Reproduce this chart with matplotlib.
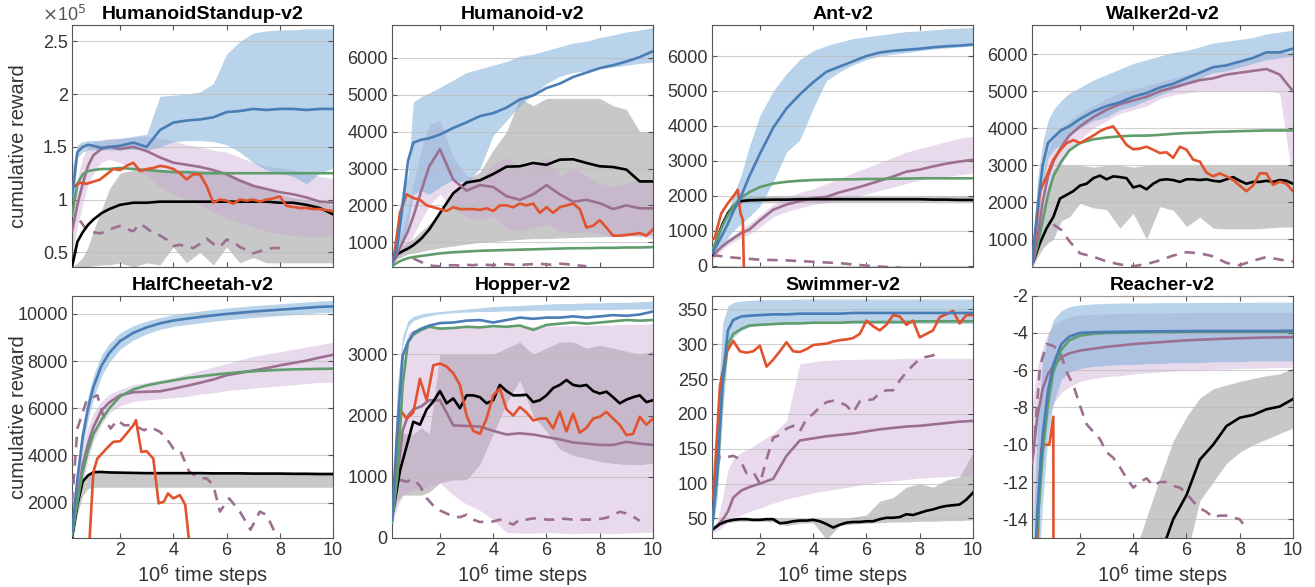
"""Learning curves on 8 MuJoCo tasks: mean lines with shaded spread."""
import numpy as np
import matplotlib
matplotlib.use("Agg")
import matplotlib.pyplot as plt

nan = np.nan

# time steps (x 10^6)
X = [0.2, 0.4, 0.6, 0.8, 1.0, 1.3, 1.6, 2.0, 2.5, 3.0, 3.5, 4.0, 4.5, 5.0,
     5.5, 6.0, 6.5, 7.0, 7.5, 8.0, 8.5, 9.0, 9.5, 10.0]
XF = np.linspace(0.25, 10, 40)

# --- HumanoidStandup-v2 (x 10^5)
HS_BLUE = [1.03, 1.45, 1.50, 1.52, 1.51, 1.49, 1.50, 1.51, 1.54, 1.50, 1.66, 1.73,
           1.75, 1.76, 1.78, 1.83, 1.84, 1.86, 1.85, 1.86, 1.86, 1.85, 1.86, 1.86]
HS_BLUE_LO = [0.80, 1.40, 1.45, 1.47, 1.47, 1.47, 1.47, 1.47, 1.48, 1.47, 1.50, 1.55,
              1.56, 1.56, 1.55, 1.52, 1.45, 1.35, 1.28, 1.25, 1.22, 1.15, 1.25, 1.30]
HS_BLUE_HI = [1.30, 1.52, 1.55, 1.56, 1.56, 1.56, 1.57, 1.58, 1.60, 1.62, 1.98, 1.99,
              2.00, 2.02, 2.10, 2.38, 2.50, 2.58, 2.60, 2.61, 2.61, 2.62, 2.62, 2.62]
HS_GREEN = [0.85, 1.15, 1.24, 1.27, 1.28, 1.29, 1.29, 1.30, 1.29, 1.28, 1.27, 1.26,
            1.26, 1.25, 1.25, 1.25, 1.25, 1.25, 1.25, 1.25, 1.25, 1.25, 1.25, 1.25]
HS_PURPLE = [0.70, 0.95, 1.15, 1.32, 1.42, 1.48, 1.50, 1.48, 1.50, 1.46, 1.40, 1.35,
             1.33, 1.31, 1.28, 1.24, 1.18, 1.13, 1.10, 1.07, 1.05, 1.02, 0.98, 0.97]
HS_PURPLE_LO = [0.45, 0.75, 0.95, 1.15, 1.25, 1.35, 1.38, 1.35, 1.30, 1.22, 1.12, 1.05,
                1.00, 0.95, 0.88, 0.82, 0.78, 0.74, 0.70, 0.68, 0.66, 0.65, 0.65, 0.65]
HS_PURPLE_HI = [1.00, 1.20, 1.40, 1.50, 1.55, 1.57, 1.58, 1.58, 1.59, 1.60, 1.58, 1.56,
                1.52, 1.50, 1.47, 1.45, 1.40, 1.35, 1.32, 1.30, 1.28, 1.25, 1.22, 1.20]
HS_BLACK = [0.36, 0.60, 0.69, 0.76, 0.81, 0.87, 0.91, 0.95, 0.97, 0.97, 0.98, 0.98,
            0.98, 0.98, 0.98, 0.98, 0.98, 0.98, 0.98, 0.97, 0.97, 0.95, 0.92, 0.86]
HS_BLACK_LO = [0.35, 0.35, 0.36, 0.36, 0.37, 0.38, 0.38, 0.40, 0.36, 0.40, 0.38, 0.55,
               0.40, 0.50, 0.38, 0.55, 0.40, 0.45, 0.40, 0.40, 0.40, 0.40, 0.40, 0.40]
HS_BLACK_HI = [0.36, 0.40, 0.45, 0.55, 0.70, 0.90, 1.10, 1.25, 1.28, 1.28, 1.28, 1.28,
               1.28, 1.28, 1.27, 1.25, 1.20, 1.15, 1.10, 1.05, 1.02, 1.00, 0.97, 0.95]
HS_RED = [1.12, 1.16, 1.15, 1.17, 1.19, 1.24, 1.29, 1.28, 1.32, 1.35,
          1.27, 1.29, 1.30, 1.32, 1.31, 1.29, 1.25, 1.19, 1.24, 1.24,
          1.13, 0.97, 1.00, 0.99, 0.96, 1.00, 0.99, 1.00, 0.98, 1.00,
          1.01, 1.03, 0.94, 0.93, 0.92, 0.92, 0.91, 0.91, 0.90, 0.89]
HS_DASH = [nan, 0.80, 0.71, 0.69, 0.68, 0.70, 0.73, 0.75, 0.72, 0.70,
           0.77, 0.73, 0.68, 0.66, 0.62, 0.56, 0.57, 0.56, 0.54, 0.58,
           0.63, 0.58, 0.55, 0.62, 0.60, 0.55, 0.52, 0.49, 0.51, 0.53,
           0.54, 0.54, nan, nan, nan, nan, nan, nan, nan, nan]

# --- Humanoid-v2
HU_BLUE = [430, 900, 2000, 3200, 3700, 3780, 3820, 3920, 4100, 4250, 4420, 4500,
           4650, 4870, 4980, 5180, 5300, 5480, 5600, 5720, 5800, 5900, 6020, 6180]
HU_BLUE_LO = [400, 700, 1000, 1500, 2300, 2400, 2300, 2500, 2700, 2600, 3000, 3900,
              4300, 4700, 5000, 5300, 5500, 5600, 5650, 5700, 5750, 5800, 5850, 5880]
HU_BLUE_HI = [450, 1500, 2500, 2800, 4800, 4950, 5050, 5200, 5400, 5600, 5700, 5800,
              5900, 6050, 6100, 6200, 6300, 6400, 6450, 6550, 6620, 6700, 6750, 6820]
HU_GREEN = [350, 450, 520, 570, 600, 630, 660, 700, 730, 750, 770, 780,
            790, 800, 810, 820, 830, 840, 840, 850, 850, 860, 860, 870]
HU_PURPLE = [450, 700, 1000, 1300, 1700, 2400, 3060, 3520, 2700, 2400, 2550, 2500,
             2250, 2150, 2300, 2550, 2300, 2100, 2150, 2060, 1900, 2000, 1920, 1920]
HU_PURPLE_LO = [420, 550, 700, 850, 1200, 1600, 2000, 2300, 1900, 1700, 1600, 1700,
                1400, 1300, 1400, 1500, 1300, 1250, 1300, 1250, 1150, 1200, 1150, 1100]
HU_PURPLE_HI = [480, 900, 1400, 1900, 2600, 3500, 4200, 4300, 3300, 2800, 2700, 3100,
                3300, 3000, 3100, 3300, 2800, 3000, 2800, 2600, 2500, 2600, 2700, 2700]
HU_BLACK = [450, 680, 760, 830, 920, 1100, 1350, 1790, 2330, 2620, 2680, 2850,
            3050, 3060, 3150, 3100, 3240, 3250, 3150, 3060, 3040, 2970, 2650, 2650]
HU_BLACK_LO = [420, 550, 620, 680, 700, 750, 800, 850, 900, 950, 1000, 1020,
               1050, 1080, 1100, 1100, 1120, 1130, 1140, 1150, 1160, 1170, 1180, 1190]
HU_BLACK_HI = [450, 720, 900, 1000, 1100, 1300, 1500, 1750, 2300, 2700, 2900, 3500,
               4000, 4900, 4700, 4900, 4900, 4900, 4900, 4900, 4700, 4600, 4000, 4000]
HU_RED = [500, 1800, 2300, 2200, 2150, 2000, 1950, 1900, 1850, 1950,
          1900, 1900, 1900, 1880, 1920, 1850, 2000, 2000, 1950, 2050,
          2000, 2050, 1800, 1950, 1800, 1950, 2000, 2050, 1900, 1400,
          1450, 1600, 1400, 1180, 1180, 1200, 1220, 1250, 1180, 1350]
HU_DASH = [nan, nan, nan, 560, 480, 400, 360, 350, 370, 380,
           370, 390, 380, 400, 390, 380, 400, 410, 390, 380,
           400, 410, 420, 400, 390, 420, 410, 380, 370, 350,
           nan, nan, nan, nan, nan, nan, nan, nan, nan, nan]

# --- Ant-v2
AN_BLUE = [350, 600, 900, 1200, 1550, 2000, 2550, 3200, 3950, 4500, 4900, 5250,
           5550, 5700, 5850, 6000, 6100, 6150, 6180, 6210, 6250, 6280, 6300, 6330]
AN_BLUE_LO = [200, 400, 600, 800, 1000, 1200, 1400, 1700, 2400, 3250, 3600, 4500,
              5300, 5550, 5750, 5900, 6000, 6050, 6100, 6150, 6200, 6230, 6260, 6290]
AN_BLUE_HI = [500, 800, 1100, 1500, 2000, 2600, 3400, 4300, 5000, 5500, 5900, 6150,
              6300, 6400, 6500, 6550, 6600, 6650, 6700, 6720, 6750, 6780, 6800, 6820]
AN_GREEN = [400, 800, 1150, 1450, 1700, 1950, 2100, 2250, 2350, 2400, 2430, 2450,
            2460, 2470, 2470, 2480, 2480, 2490, 2490, 2500, 2500, 2500, 2500, 2500]
AN_PURPLE = [260, 420, 560, 680, 780, 930, 1030, 1300, 1600, 1750, 1850, 1930,
             1970, 2100, 2200, 2310, 2430, 2550, 2690, 2750, 2840, 2920, 2980, 3030]
AN_PURPLE_LO = [150, 320, 460, 580, 680, 800, 900, 1100, 1400, 1550, 1650, 1750,
                1800, 1900, 1950, 2050, 2150, 2250, 2350, 2450, 2500, 2550, 2600, 2650]
AN_PURPLE_HI = [300, 500, 650, 780, 880, 1050, 1200, 1450, 1750, 1950, 2100, 2200,
                2350, 2500, 2650, 2800, 2950, 3100, 3250, 3350, 3450, 3550, 3650, 3700]
AN_BLACK = [300, 800, 1200, 1500, 1700, 1850, 1870, 1880, 1890, 1890, 1900, 1900,
            1900, 1900, 1900, 1900, 1900, 1900, 1900, 1900, 1890, 1890, 1880, 1880]
AN_BLACK_LO = [280, 750, 1100, 1400, 1600, 1780, 1800, 1800, 1800, 1800, 1800, 1800,
               1800, 1800, 1800, 1800, 1800, 1800, 1800, 1800, 1800, 1800, 1800, 1800]
AN_BLACK_HI = [320, 850, 1300, 1600, 1800, 1950, 2000, 2000, 2000, 2000, 2000, 2000,
               2000, 2000, 2000, 2000, 2000, 2000, 2000, 2000, 2000, 2000, 2000, 2000]
AN_RED_X = [0.2, 0.3, 0.55, 0.8, 1.0, 1.17, 1.27, 1.36, 1.4]
AN_RED = [740, 790, 1500, 1790, 1980, 2170, 1500, 1310, -100]
AN_DASH_X = [0.2, 1.0, 2.0, 3.0, 4.0, 5.0, 6.0, 7.0, 7.3]
AN_DASH = [300, 230, 170, 150, 110, 70, 0, -50, -60]

# --- Walker2d-v2
WA_BLUE = [350, 1800, 3000, 3600, 3750, 3950, 4050, 4250, 4450, 4600, 4700, 4850,
           4950, 5100, 5200, 5350, 5500, 5650, 5700, 5800, 5900, 6050, 6050, 6150]
WA_BLUE_LO = [250, 1200, 2500, 3200, 3400, 3600, 3800, 4000, 4200, 4300, 4500, 4600,
              4750, 4900, 5050, 5200, 5350, 5500, 5550, 5650, 5750, 5850, 5900, 5950]
WA_BLUE_HI = [400, 2600, 3600, 4200, 4500, 4750, 4950, 5100, 5300, 5450, 5600, 5750,
              5850, 5950, 6050, 6100, 6200, 6300, 6350, 6400, 6450, 6550, 6600, 6650]
WA_GREEN = [300, 800, 1500, 2200, 2700, 3100, 3400, 3600, 3700, 3750, 3780, 3800,
            3800, 3820, 3850, 3870, 3880, 3900, 3910, 3920, 3930, 3940, 3940, 3940]
WA_PURPLE = [300, 1000, 2000, 2700, 3100, 3500, 3800, 4050, 4300, 4500, 4650, 4750,
             4850, 5000, 5100, 5200, 5300, 5350, 5450, 5500, 5550, 5600, 5450, 5000]
WA_PURPLE_LO = [250, 700, 1500, 2200, 2700, 3000, 3400, 3700, 4000, 4200, 4400, 4500,
                4600, 4800, 4900, 4950, 5000, 5000, 5000, 5000, 5000, 5000, 4950, 2500]
WA_PURPLE_HI = [350, 1500, 2700, 3400, 3700, 4000, 4200, 4400, 4600, 4800, 4950, 5050,
                5150, 5250, 5350, 5450, 5550, 5650, 5750, 5850, 5950, 6000, 6050, 6000]
WA_BLACK_LO = [250, 500, 750, 900, 1000, 1500, 1600, 1970, 1850, 1800, 1300, 1700,
               1000, 1880, 1790, 1340, 1600, 1300, 1280, 1280, 1280, 1300, 1330, 1330]
WA_BLACK_HI = [300, 1000, 1800, 2400, 2900, 3000, 3000, 3000, 2950, 3000, 3000, 2950,
               3000, 3000, 3000, 3000, 3000, 3000, 3000, 3000, 3000, 3000, 3000, 3000]
WA_BLACK = [400, 900, 1300, 1600, 2100, 2200, 2300, 2450, 2500, 2650,
            2720, 2620, 2700, 2680, 2650, 2400, 2450, 2350, 2500, 2600,
            2620, 2600, 2550, 2620, 2620, 2600, 2620, 2580, 2560, 2620,
            2680, 2580, 2500, 2550, 2550, 2580, 2550, 2600, 2580, 2500]
WA_RED = [600, 2300, 2700, 3150, 3400, 3600, 3680, 3600, 3700, 3800,
          3920, 4000, 4050, 3800, 3550, 3430, 3450, 3500, 3420, 3330,
          3350, 3200, 3500, 3420, 3150, 3100, 2800, 2700, 2780, 2700,
          2600, 2450, 2300, 2450, 2780, 2780, 2470, 2560, 2500, 2300]
WA_DASH = [nan, nan, nan, nan, 1400, 1250, 950, 620, 530, 400, 320, 270,
           330, 430, 560, 650, 620, 540, 360, 300, 420, 520, 450, 400]

# --- HalfCheetah-v2
HC_BLUE = [800, 3000, 4800, 6000, 6900, 7800, 8350, 8850, 9200, 9430, 9600, 9720,
           9800, 9870, 9940, 10000, 10050, 10100, 10140, 10180, 10220, 10260, 10300, 10320]
HC_BLUE_LO = [600, 2600, 4300, 5500, 6400, 7350, 7950, 8500, 8900, 9150, 9350, 9470,
              9550, 9620, 9690, 9750, 9800, 9850, 9890, 9930, 9970, 10010, 10050, 10070]
HC_BLUE_HI = [1000, 3400, 5300, 6500, 7400, 8250, 8750, 9200, 9500, 9700, 9850, 9970,
              10050, 10120, 10190, 10250, 10300, 10350, 10390, 10430, 10470, 10510, 10550, 10570]
HC_GREEN = [600, 2000, 3300, 4200, 4900, 5500, 6000, 6500, 6800, 6970, 7080, 7180,
            7280, 7350, 7420, 7480, 7530, 7570, 7600, 7630, 7650, 7660, 7670, 7680]
HC_PURPLE = [700, 2200, 3600, 4500, 5200, 5900, 6250, 6550, 6680, 6700, 6720, 6830,
             6950, 7080, 7220, 7400, 7500, 7600, 7700, 7820, 7920, 8020, 8150, 8270]
HC_PURPLE_LO = [500, 1600, 2900, 3800, 4600, 5300, 5800, 6100, 6300, 6350, 6400, 6450,
                6500, 6600, 6650, 6750, 6800, 6850, 6900, 6950, 7000, 7050, 7100, 7100]
HC_PURPLE_HI = [900, 2800, 4300, 5200, 5800, 6300, 6600, 6800, 7000, 7100, 7200, 7300,
                7450, 7600, 7750, 7900, 8050, 8200, 8300, 8400, 8500, 8600, 8700, 8800]
HC_BLACK = [500, 1900, 2900, 3150, 3290, 3300, 3280, 3270, 3260, 3250, 3250, 3250,
            3250, 3250, 3240, 3240, 3240, 3230, 3230, 3230, 3220, 3220, 3210, 3210]
HC_BLACK_LO = [400, 1500, 2300, 2600, 2650, 2650, 2650, 2650, 2650, 2650, 2650, 2650,
               2650, 2650, 2650, 2650, 2650, 2650, 2650, 2650, 2650, 2650, 2650, 2650]
HC_BLACK_HI = [600, 2000, 3000, 3250, 3300, 3300, 3300, 3300, 3300, 3300, 3300, 3300,
               3300, 3300, 3300, 3300, 3300, 3300, 3300, 3300, 3300, 3300, 3300, 3300]
HC_RED_X = [0.85, 1.0, 1.15, 1.5, 1.75, 2.0, 2.25, 2.5, 2.6, 2.8, 3.0, 3.25, 3.45,
            3.65, 3.8, 4.0, 4.25, 4.45, 4.6]
HC_RED = [300, 3300, 3870, 4300, 4580, 4600, 4930, 5280, 5500, 4150, 4180, 3870, 1970,
          2040, 2390, 2180, 2320, 1900, 300]
HC_DASH_X = [0.2, 0.4, 0.75, 1.15, 1.4, 1.65, 1.9, 2.15, 2.5, 2.9, 3.15, 3.5, 3.75, 4.0,
             4.25, 4.6, 5.0, 5.25, 5.5, 5.75, 6.1, 6.5, 6.9, 7.25, 7.5, 7.75, 7.9]
HC_DASH = [2000, 5140, 6340, 6550, 5560, 5140, 5500, 5280, 5280, 5070, 5200, 5000, 4720,
           4300, 4230, 3310, 3030, 3030, 2750, 1620, 2180, 1620, 850, 1620, 1480, 900, 300]

# --- Hopper-v2
HO_BLUE = [300, 1800, 2980, 3200, 3350, 3420, 3470, 3510, 3520, 3550, 3560, 3520,
           3560, 3600, 3580, 3600, 3600, 3620, 3600, 3620, 3640, 3630, 3650, 3700]
HO_BLUE_LO = [350, 2000, 3150, 3450, 3550, 3600, 3630, 3660, 3680, 3690, 3700, 3700,
              3710, 3710, 3720, 3720, 3720, 3720, 3730, 3730, 3730, 3740, 3740, 3740]
HO_BLUE_HI = [400, 2500, 3300, 3550, 3620, 3660, 3680, 3700, 3720, 3740, 3760, 3780,
              3790, 3800, 3810, 3820, 3830, 3830, 3840, 3840, 3850, 3850, 3860, 3870]
HO_GREEN = [250, 1000, 2500, 3200, 3320, 3400, 3450, 3420, 3430, 3450, 3440, 3460,
            3450, 3470, 3400, 3480, 3500, 3520, 3500, 3520, 3540, 3560, 3550, 3560]
HO_PURPLE = [300, 1000, 1750, 2000, 2100, 2150, 2250, 2250, 1840, 1830, 1820, 1750,
             1690, 1710, 1690, 1650, 1610, 1560, 1540, 1520, 1520, 1570, 1540, 1520]
HO_PURPLE_LO = [250, 500, 700, 750, 780, 800, 850, 900, 700, 550, 450, 300,
                90, 80, 80, 90, 80, 70, 80, 80, 70, 80, 90, 90]
HO_PURPLE_HI = [350, 1500, 3000, 3350, 3400, 3420, 3430, 3430, 3430, 3440, 3440, 3440,
                3440, 3450, 3450, 3460, 3460, 3470, 3470, 3480, 3480, 3490, 3490, 3500]
HO_BLACK_LO = [300, 600, 700, 700, 700, 700, 750, 900, 950, 950, 1200, 1700,
               2200, 2580, 2000, 1740, 1450, 1350, 1300, 1250, 1220, 1200, 1200, 1220]
HO_BLACK_HI = [400, 1400, 1700, 1700, 1700, 1800, 1700, 3000, 3000, 3000, 3000, 3000,
               3100, 3200, 3000, 3100, 3200, 3200, 3100, 3150, 3100, 3050, 3000, 3050]
HO_BLACK = [450, 1100, 1500, 1900, 1850, 2100, 2230, 2400, 2200, 2280,
            2120, 2330, 2330, 2300, 2200, 2250, 2500, 2400, 2330, 2330,
            2340, 2220, 2250, 2330, 2450, 2500, 2580, 2500, 2480, 2500,
            2400, 2360, 2390, 2300, 2200, 2260, 2300, 2330, 2220, 2250]
HO_RED = [600, 2100, 1950, 2050, 2600, 2250, 2820, 2850, 2800, 2690,
          2500, 2000, 1750, 1700, 1950, 2330, 2440, 2100, 2000, 2140,
          2050, 1920, 1950, 1950, 1790, 2060, 1740, 2030, 1720, 1800,
          1950, 1980, 2060, 1950, 1850, 1680, 1700, 1980, 1850, 1950]
HO_DASH = [nan, 950, 920, 960, 850, 650, 530, 450, 400, 350,
           340, 380, 300, 260, 270, 270, 300, 260, 220, 300,
           300, 320, 320, 300, 300, 320, 310, 300, 300, 300,
           300, 310, 330, 370, 430, 400, 350, 280, nan, nan]

# --- Swimmer-v2
SW_BLUE = [35, 120, 250, 320, 335, 340, 341, 342, 343, 343, 344, 344,
           344, 344, 345, 345, 345, 345, 345, 345, 345, 345, 345, 345]
SW_BLUE_LO = [30, 80, 200, 290, 310, 320, 325, 328, 329, 330, 330, 330,
              330, 330, 330, 330, 330, 330, 330, 330, 330, 330, 330, 330]
SW_BLUE_HI = [40, 200, 330, 355, 360, 362, 363, 364, 364, 364, 365, 365,
              365, 365, 365, 365, 365, 365, 365, 365, 365, 365, 365, 365]
SW_GREEN = [35, 110, 240, 300, 315, 322, 327, 328, 329, 330, 330, 331,
            331, 331, 332, 332, 332, 332, 332, 333, 333, 333, 333, 333]
SW_PURPLE = [33, 40, 48, 60, 80, 90, 95, 100, 107, 140, 162, 165,
             168, 170, 172, 175, 178, 180, 182, 183, 185, 187, 189, 190]
SW_PURPLE_LO = [30, 32, 38, 45, 50, 55, 60, 65, 72, 78, 82, 87,
                90, 93, 96, 100, 102, 104, 106, 108, 109, 110, 111, 112]
SW_PURPLE_HI = [35, 45, 80, 120, 135, 145, 150, 160, 172, 190, 272, 275,
                277, 278, 278, 279, 279, 279, 280, 280, 280, 280, 280, 280]
SW_BLACK_LO = [32, 38, 42, 44, 45, 46, 46, 46, 45, 40, 43, 44,
               20, 40, 42, 43, 44, 45, 45, 46, 46, 47, 47, 48]
SW_BLACK_HI = [35, 42, 47, 49, 50, 51, 50, 50, 51, 50, 50, 50,
               50, 50, 52, 55, 75, 80, 95, 100, 95, 105, 110, 145]
SW_BLACK = [35, 42, 46, 48, 49, 49, 48, 48, 49, 49,
            43, 44, 46, 47, 47, 48, 46, 42, 37, 41,
            44, 45, 45, 46, 46, 49, 51, 51, 52, 56,
            55, 58, 61, 63, 66, 68, 69, 70, 77, 87]
SW_RED = [80, 240, 289, 305, 290, 288, 290, 298, 268, 278,
          290, 303, 290, 289, 293, 299, 300, 301, 304, 306,
          307, 309, 315, 334, 326, 320, 328, 342, 340, 328,
          334, 310, 315, 320, 339, 343, 348, 330, 342, 342]
SW_DASH = [100, 140, 138, 140, 135, 115, 117, 100, 135, 166,
           170, 179, 183, 175, 193, 200, 210, 217, 219, 217,
           212, 202, 218, 220, 221, 230, 234, 234, 248, 260,
           270, 279, 282, 284, 291, nan, nan, nan, nan, nan]

# --- Reacher-v2
RE_BLUE = [-20, -13.5, -9.5, -7.1, -5.7, -4.6, -4.2, -4.0, -3.97, -3.95, -3.94, -3.93,
           -3.92, -3.92, -3.91, -3.91, -3.9, -3.9, -3.9, -3.9, -3.9, -3.9, -3.9, -3.88]
RE_BLUE_LO = [-24, -18, -13, -9.5, -7.8, -6.5, -6.1, -5.9, -5.8, -5.75, -5.7, -5.7,
              -5.65, -5.65, -5.6, -5.6, -5.6, -5.55, -5.55, -5.55, -5.5, -5.5, -5.5, -5.5]
RE_BLUE_HI = [-16, -9, -5.5, -4.2, -3.3, -2.8, -2.6, -2.5, -2.45, -2.42, -2.4, -2.4,
              -2.4, -2.38, -2.38, -2.38, -2.37, -2.37, -2.36, -2.36, -2.36, -2.35, -2.35, -2.35]
RE_GREEN = [-21, -14.5, -10.5, -7.8, -6.1, -4.9, -4.4, -4.15, -4.05, -4.0, -4.0, -3.98,
            -3.97, -3.96, -3.96, -3.95, -3.95, -3.95, -3.95, -3.95, -3.95, -3.95, -3.95, -3.95]
RE_PURPLE = [-11, -8.5, -7.0, -6.2, -5.8, -5.3, -5.1, -4.95, -4.85, -4.75, -4.68, -4.6,
             -4.55, -4.5, -4.45, -4.4, -4.37, -4.34, -4.31, -4.29, -4.27, -4.25, -4.24, -4.23]
RE_PURPLE_LO = [-15, -12, -10, -8.5, -7.8, -7.2, -6.9, -6.6, -6.45, -6.35, -6.3, -6.2,
                -6.15, -6.1, -6.05, -6.0, -6.0, -5.95, -5.95, -5.9, -5.9, -5.88, -5.85, -5.85]
RE_PURPLE_HI = [-8, -5.8, -4.8, -4.0, -3.6, -3.3, -3.15, -3.05, -3.0, -2.98, -2.96, -2.95,
                -2.94, -2.93, -2.92, -2.92, -2.91, -2.91, -2.9, -2.9, -2.9, -2.9, -2.9, -2.9]
RE_BLACK = [nan, nan, nan, nan, nan, nan, nan, nan, nan, nan, nan, -20,
            -17, -16, -14, -12.7, -10.8, -10.0, -9.0, -8.55, -8.4, -8.1, -7.95, -7.55]
RE_BLACK_LO = [nan, nan, nan, nan, nan, nan, nan, nan, nan, nan, nan, -25,
               -22, -21, -19, -16, -13, -12.0, -11.0, -10.4, -10.0, -9.7, -9.4, -9.1]
RE_BLACK_HI = [nan, nan, nan, nan, nan, nan, nan, nan, nan, nan, nan, -16,
               -13.9, -11.8, -9.8, -8.5, -7.5, -7.0, -6.8, -6.6, -6.45, -6.3, -6.2, -5.9]
RE_RED_X = [0.35, 0.45, 0.55, 0.65, 0.75, 0.85, 1.0, 1.01]
RE_RED = [-20, -13, -10.2, -10.0, -10.0, -10.0, -8.5, -20]
RE_DASH = [-10.5, -5.8, -4.6, -4.7, -5.0, -6.1, -6.8, -7.9, -8.9, -9.3,
           -9.7, -10.4, -10.7, -11.2, -11.8, -12.3, -12.0, -11.8, -12.2, -12.0,
           -12.0, -12.2, -12.3, -12.6, -13.05, -13.4, -13.6, -13.9, -13.8, -13.8,
           -13.9, -14.0, -14.5, nan, nan, nan, nan, nan, nan, nan]

LINE_COLORS = {"blue": "#4a7db5", "green": "#5f9d6d", "red": "#e1522d",
               "purple": "#9c6f90", "black": "#000000"}
BAND_COLORS = {"blue": ("#73a9d7", 0.5), "purple": ("#c6a3d0", 0.4),
               "black": ("#858585", 0.45)}

plt.rcParams["font.family"] = ["Liberation Sans", "DejaVu Sans"]
plt.rcParams["axes.unicode_minus"] = False


def band(ax, x, lo, hi, kind):
    col, a = BAND_COLORS[kind]
    ax.fill_between(x, lo, hi, color=col, alpha=a, lw=0, zorder=1)


def line(ax, x, y, kind, dashed=False):
    if dashed:
        ax.plot(x, y, color=LINE_COLORS[kind], lw=1.9, ls=(0, (4, 3)), zorder=3)
    else:
        ax.plot(x, y, color=LINE_COLORS[kind], lw=1.9, zorder=3,
                solid_joinstyle="round")


def style(ax, title, ylim, yticks, ylabels=None, bottom=False, left=False):
    ax.set_xlim(0.2, 10)
    ax.set_ylim(*ylim)
    ax.set_xticks([2, 4, 6, 8, 10])
    ax.set_yticks(yticks)
    if ylabels is None:
        ylabels = ["%g" % v for v in yticks]
    ax.set_yticklabels(ylabels)
    if bottom:
        ax.set_xticklabels(["2", "4", "6", "8", "10"])
        ax.set_xlabel("10$^6$ time steps", fontsize=14.5, color="#333333",
                      labelpad=2)
    else:
        ax.set_xticklabels([])
    if left:
        ax.set_ylabel("cumulative reward", fontsize=14.5, color="#333333")
        ax.yaxis.set_label_coords(-0.17, 0.5)
    ax.set_title(title, fontsize=14, fontweight="bold", pad=4)
    ax.tick_params(direction="in", top=True, right=True, length=3.5, width=0.8,
                   colors="#555555", labelcolor="#333333", labelsize=13, pad=3)
    ax.grid(axis="y", color="#bbbbbb", lw=0.8, alpha=0.7)
    ax.set_axisbelow(False)
    for s in ax.spines.values():
        s.set_color("#555555")
        s.set_linewidth(0.8)


fig = plt.figure(figsize=(13.15, 5.87), dpi=100)
lefts = [0.0548, 0.2981, 0.5414, 0.7848]
w, h = 0.1985, 0.413
axs = [[fig.add_axes([l, 0.5451, w, h]) for l in lefts],
       [fig.add_axes([l, 0.0835, w, h]) for l in lefts]]

# HumanoidStandup
ax = axs[0][0]
band(ax, X, HS_BLACK_LO, HS_BLACK_HI, "black")
band(ax, X, HS_PURPLE_LO, HS_PURPLE_HI, "purple")
band(ax, X, HS_BLUE_LO, HS_BLUE_HI, "blue")
line(ax, XF, HS_DASH, "purple", dashed=True)
line(ax, X, HS_BLACK, "black")
line(ax, X, HS_PURPLE, "purple")
line(ax, X, HS_GREEN, "green")
line(ax, XF, HS_RED, "red")
line(ax, X, HS_BLUE, "blue")
style(ax, "HumanoidStandup-v2", (0.36, 2.66), [0.5, 1, 1.5, 2, 2.5], left=True)
ax.text(-0.115, 1.0, "$\\times$10$^5$", transform=ax.transAxes, fontsize=13,
        color="#555555", ha="left", va="bottom")

# Humanoid
ax = axs[0][1]
band(ax, X, HU_BLACK_LO, HU_BLACK_HI, "black")
band(ax, X, HU_PURPLE_LO, HU_PURPLE_HI, "purple")
band(ax, X, HU_BLUE_LO, HU_BLUE_HI, "blue")
line(ax, XF, HU_DASH, "purple", dashed=True)
line(ax, X, HU_GREEN, "green")
line(ax, X, HU_BLACK, "black")
line(ax, X, HU_PURPLE, "purple")
line(ax, XF, HU_RED, "red")
line(ax, X, HU_BLUE, "blue")
style(ax, "Humanoid-v2", (330, 6900), [1000, 2000, 3000, 4000, 5000, 6000])

# Ant
ax = axs[0][2]
band(ax, X, AN_BLACK_LO, AN_BLACK_HI, "black")
band(ax, X, AN_PURPLE_LO, AN_PURPLE_HI, "purple")
band(ax, X, AN_BLUE_LO, AN_BLUE_HI, "blue")
line(ax, AN_DASH_X, AN_DASH, "purple", dashed=True)
line(ax, X, AN_PURPLE, "purple")
line(ax, X, AN_BLACK, "black")
line(ax, AN_RED_X, AN_RED, "red")
line(ax, X, AN_GREEN, "green")
line(ax, X, AN_BLUE, "blue")
style(ax, "Ant-v2", (-40, 6900), [0, 1000, 2000, 3000, 4000, 5000, 6000])

# Walker2d
ax = axs[0][3]
band(ax, X, WA_BLACK_LO, WA_BLACK_HI, "black")
band(ax, X, WA_PURPLE_LO, WA_PURPLE_HI, "purple")
band(ax, X, WA_BLUE_LO, WA_BLUE_HI, "blue")
line(ax, X, WA_DASH, "purple", dashed=True)
line(ax, XF, WA_BLACK, "black")
line(ax, X, WA_GREEN, "green")
line(ax, X, WA_PURPLE, "purple")
line(ax, XF, WA_RED, "red")
line(ax, X, WA_BLUE, "blue")
style(ax, "Walker2d-v2", (250, 6800), [1000, 2000, 3000, 4000, 5000, 6000])

# HalfCheetah
ax = axs[1][0]
band(ax, X, HC_BLACK_LO, HC_BLACK_HI, "black")
band(ax, X, HC_PURPLE_LO, HC_PURPLE_HI, "purple")
band(ax, X, HC_BLUE_LO, HC_BLUE_HI, "blue")
line(ax, HC_DASH_X, HC_DASH, "purple", dashed=True)
line(ax, X, HC_BLACK, "black")
line(ax, HC_RED_X, HC_RED, "red")
line(ax, X, HC_PURPLE, "purple")
line(ax, X, HC_GREEN, "green")
line(ax, X, HC_BLUE, "blue")
style(ax, "HalfCheetah-v2", (500, 10780), [2000, 4000, 6000, 8000, 10000],
      bottom=True, left=True)

# Hopper
ax = axs[1][1]
band(ax, X, HO_BLACK_LO, HO_BLACK_HI, "black")
band(ax, X, HO_PURPLE_LO, HO_PURPLE_HI, "purple")
band(ax, X, HO_BLUE_LO, HO_BLUE_HI, "blue")
line(ax, XF, HO_DASH, "purple", dashed=True)
line(ax, X, HO_PURPLE, "purple")
line(ax, XF, HO_BLACK, "black")
line(ax, XF, HO_RED, "red")
line(ax, X, HO_GREEN, "green")
line(ax, X, HO_BLUE, "blue")
style(ax, "Hopper-v2", (0, 3960), [0, 1000, 2000, 3000], bottom=True)

# Swimmer
ax = axs[1][2]
band(ax, X, SW_BLACK_LO, SW_BLACK_HI, "black")
band(ax, X, SW_PURPLE_LO, SW_PURPLE_HI, "purple")
band(ax, X, SW_BLUE_LO, SW_BLUE_HI, "blue")
line(ax, XF, SW_DASH, "purple", dashed=True)
line(ax, X, SW_PURPLE, "purple")
line(ax, XF, SW_BLACK, "black")
line(ax, X, SW_GREEN, "green")
line(ax, XF, SW_RED, "red")
line(ax, X, SW_BLUE, "blue")
style(ax, "Swimmer-v2", (22, 370), [50, 100, 150, 200, 250, 300, 350], bottom=True)

# Reacher
ax = axs[1][3]
band(ax, X, RE_BLACK_LO, RE_BLACK_HI, "black")
band(ax, X, RE_PURPLE_LO, RE_PURPLE_HI, "purple")
band(ax, X, RE_BLUE_LO, RE_BLUE_HI, "blue")
line(ax, XF, RE_DASH, "purple", dashed=True)
line(ax, X, RE_BLACK, "black")
line(ax, RE_RED_X, RE_RED, "red")
line(ax, X, RE_PURPLE, "purple")
line(ax, X, RE_GREEN, "green")
line(ax, X, RE_BLUE, "blue")
style(ax, "Reacher-v2", (-15, -2), [-14, -12, -10, -8, -6, -4, -2], bottom=True)

fig.savefig("out.png", dpi=100)
